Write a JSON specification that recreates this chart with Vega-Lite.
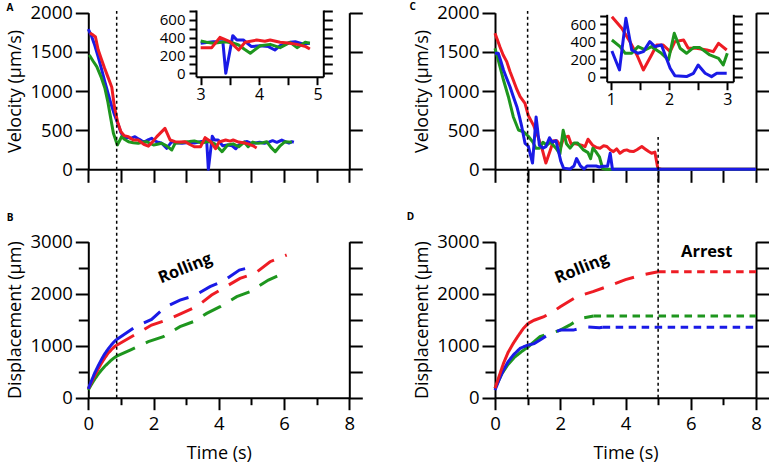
{
  "$schema": "https://vega.github.io/schema/vega-lite/v6.json",
  "width": 769,
  "height": 465,
  "autosize": {"type": "none"},
  "padding": 0,
  "background": "white",
  "config": {
    "view": {"stroke": null},
    "font": "Open Sans",
    "axis": {"grid": false, "domainColor": "black", "domainWidth": 2, "tickColor": "black", "tickWidth": 2, "labelColor": "black", "labelFont": "Open Sans", "labelFontSize": 18.5, "titleFont": "Open Sans", "titleFontSize": 18, "titleFontWeight": "normal", "titleColor": "black", "labelFlush": false, "labelOverlap": false, "labelPadding": 3, "tickSize": 13}
  },
  "datasets": {
    "vA": [
      {"cell":"cell 1","t":0,"v":1790},{"cell":"cell 1","t":0.1,"v":1700},{"cell":"cell 1","t":0.2,"v":1580},{"cell":"cell 1","t":0.3,"v":1440},{"cell":"cell 1","t":0.4,"v":1290},{"cell":"cell 1","t":0.5,"v":1130},{"cell":"cell 1","t":0.6,"v":980},{"cell":"cell 1","t":0.7,"v":830},{"cell":"cell 1","t":0.8,"v":700},{"cell":"cell 1","t":0.9,"v":590},{"cell":"cell 1","t":1.0,"v":470},{"cell":"cell 1","t":1.1,"v":400},{"cell":"cell 1","t":1.2,"v":410},{"cell":"cell 1","t":1.3,"v":395},{"cell":"cell 1","t":1.43,"v":417},{"cell":"cell 1","t":1.55,"v":385},{"cell":"cell 1","t":1.65,"v":360},{"cell":"cell 1","t":1.74,"v":353},{"cell":"cell 1","t":1.85,"v":380},{"cell":"cell 1","t":1.94,"v":396},{"cell":"cell 1","t":2.05,"v":360},{"cell":"cell 1","t":2.15,"v":345},{"cell":"cell 1","t":2.25,"v":332},{"cell":"cell 1","t":2.4,"v":268},{"cell":"cell 1","t":2.56,"v":353},{"cell":"cell 1","t":2.7,"v":340},{"cell":"cell 1","t":2.87,"v":332},{"cell":"cell 1","t":3.0,"v":340},{"cell":"cell 1","t":3.1,"v":345},{"cell":"cell 1","t":3.25,"v":337},{"cell":"cell 1","t":3.47,"v":355},{"cell":"cell 1","t":3.63,"v":355},{"cell":"cell 1","t":3.68,"v":0},{"cell":"cell 1","t":3.8,"v":423},{"cell":"cell 1","t":3.87,"v":374},{"cell":"cell 1","t":3.98,"v":374},{"cell":"cell 1","t":4.12,"v":300},{"cell":"cell 1","t":4.27,"v":310},{"cell":"cell 1","t":4.41,"v":300},{"cell":"cell 1","t":4.52,"v":262},{"cell":"cell 1","t":4.61,"v":310},{"cell":"cell 1","t":4.78,"v":348},{"cell":"cell 1","t":4.87,"v":355},{"cell":"cell 1","t":5.0,"v":330},{"cell":"cell 1","t":5.12,"v":337},{"cell":"cell 1","t":5.25,"v":345},{"cell":"cell 1","t":5.4,"v":332},{"cell":"cell 1","t":5.55,"v":350},{"cell":"cell 1","t":5.65,"v":366},{"cell":"cell 1","t":5.78,"v":345},{"cell":"cell 1","t":5.93,"v":374},{"cell":"cell 1","t":6.05,"v":350},{"cell":"cell 1","t":6.15,"v":335},{"cell":"cell 1","t":6.24,"v":353},{"cell":"cell 1","t":6.3,"v":345},
      {"cell":"cell 3","t":0.03,"v":1460},{"cell":"cell 3","t":0.15,"v":1380},{"cell":"cell 3","t":0.26,"v":1311},{"cell":"cell 3","t":0.4,"v":1170},{"cell":"cell 3","t":0.51,"v":1034},{"cell":"cell 3","t":0.6,"v":860},{"cell":"cell 3","t":0.66,"v":715},{"cell":"cell 3","t":0.77,"v":460},{"cell":"cell 3","t":0.89,"v":311},{"cell":"cell 3","t":0.97,"v":374},{"cell":"cell 3","t":1.02,"v":417},{"cell":"cell 3","t":1.12,"v":380},{"cell":"cell 3","t":1.23,"v":353},{"cell":"cell 3","t":1.38,"v":340},{"cell":"cell 3","t":1.53,"v":332},{"cell":"cell 3","t":1.65,"v":345},{"cell":"cell 3","t":1.79,"v":353},{"cell":"cell 3","t":2.0,"v":310},{"cell":"cell 3","t":2.12,"v":320},{"cell":"cell 3","t":2.25,"v":332},{"cell":"cell 3","t":2.4,"v":300},{"cell":"cell 3","t":2.56,"v":247},{"cell":"cell 3","t":2.66,"v":332},{"cell":"cell 3","t":2.8,"v":340},{"cell":"cell 3","t":2.97,"v":350},{"cell":"cell 3","t":3.1,"v":355},{"cell":"cell 3","t":3.25,"v":363},{"cell":"cell 3","t":3.47,"v":337},{"cell":"cell 3","t":3.67,"v":355},{"cell":"cell 3","t":3.8,"v":340},{"cell":"cell 3","t":3.9,"v":318},{"cell":"cell 3","t":4.0,"v":270},{"cell":"cell 3","t":4.1,"v":225},{"cell":"cell 3","t":4.27,"v":310},{"cell":"cell 3","t":4.44,"v":325},{"cell":"cell 3","t":4.61,"v":288},{"cell":"cell 3","t":4.78,"v":348},{"cell":"cell 3","t":4.9,"v":288},{"cell":"cell 3","t":5.04,"v":348},{"cell":"cell 3","t":5.12,"v":337},{"cell":"cell 3","t":5.21,"v":332},{"cell":"cell 3","t":5.35,"v":340},{"cell":"cell 3","t":5.47,"v":353},{"cell":"cell 3","t":5.6,"v":280},{"cell":"cell 3","t":5.73,"v":225},{"cell":"cell 3","t":5.88,"v":300},{"cell":"cell 3","t":6.03,"v":353},{"cell":"cell 3","t":6.24,"v":345},
      {"cell":"cell 2","t":0.05,"v":1740},{"cell":"cell 2","t":0.15,"v":1715},{"cell":"cell 2","t":0.22,"v":1690},{"cell":"cell 2","t":0.3,"v":1530},{"cell":"cell 2","t":0.4,"v":1410},{"cell":"cell 2","t":0.5,"v":1290},{"cell":"cell 2","t":0.6,"v":1180},{"cell":"cell 2","t":0.72,"v":1047},{"cell":"cell 2","t":0.8,"v":800},{"cell":"cell 2","t":0.9,"v":600},{"cell":"cell 2","t":1.0,"v":480},{"cell":"cell 2","t":1.1,"v":430},{"cell":"cell 2","t":1.23,"v":417},{"cell":"cell 2","t":1.38,"v":374},{"cell":"cell 2","t":1.53,"v":374},{"cell":"cell 2","t":1.7,"v":320},{"cell":"cell 2","t":1.84,"v":296},{"cell":"cell 2","t":1.97,"v":350},{"cell":"cell 2","t":2.1,"v":417},{"cell":"cell 2","t":2.35,"v":523},{"cell":"cell 2","t":2.51,"v":374},{"cell":"cell 2","t":2.66,"v":353},{"cell":"cell 2","t":2.8,"v":350},{"cell":"cell 2","t":2.97,"v":353},{"cell":"cell 2","t":3.1,"v":320},{"cell":"cell 2","t":3.25,"v":288},{"cell":"cell 2","t":3.44,"v":288},{"cell":"cell 2","t":3.58,"v":404},{"cell":"cell 2","t":3.75,"v":355},{"cell":"cell 2","t":3.9,"v":262},{"cell":"cell 2","t":4.01,"v":348},{"cell":"cell 2","t":4.21,"v":374},{"cell":"cell 2","t":4.35,"v":360},{"cell":"cell 2","t":4.44,"v":374},{"cell":"cell 2","t":4.61,"v":348},{"cell":"cell 2","t":4.75,"v":340},{"cell":"cell 2","t":4.9,"v":325},{"cell":"cell 2","t":5.05,"v":300},{"cell":"cell 2","t":5.16,"v":273}
    ],
    "iA": [
      {"cell":"cell 1","t":3.0,"v":337},{"cell":"cell 1","t":3.1,"v":345},{"cell":"cell 1","t":3.22,"v":355},{"cell":"cell 1","t":3.38,"v":355},{"cell":"cell 1","t":3.43,"v":0},{"cell":"cell 1","t":3.55,"v":423},{"cell":"cell 1","t":3.62,"v":374},{"cell":"cell 1","t":3.73,"v":374},{"cell":"cell 1","t":3.87,"v":300},{"cell":"cell 1","t":4.02,"v":310},{"cell":"cell 1","t":4.16,"v":300},{"cell":"cell 1","t":4.27,"v":262},{"cell":"cell 1","t":4.36,"v":310},{"cell":"cell 1","t":4.53,"v":348},{"cell":"cell 1","t":4.62,"v":355},{"cell":"cell 1","t":4.75,"v":330},{"cell":"cell 1","t":4.87,"v":337},
      {"cell":"cell 3","t":3.0,"v":363},{"cell":"cell 3","t":3.1,"v":350},{"cell":"cell 3","t":3.22,"v":337},{"cell":"cell 3","t":3.42,"v":355},{"cell":"cell 3","t":3.55,"v":340},{"cell":"cell 3","t":3.65,"v":318},{"cell":"cell 3","t":3.75,"v":270},{"cell":"cell 3","t":3.85,"v":225},{"cell":"cell 3","t":4.02,"v":310},{"cell":"cell 3","t":4.19,"v":325},{"cell":"cell 3","t":4.36,"v":288},{"cell":"cell 3","t":4.53,"v":348},{"cell":"cell 3","t":4.65,"v":288},{"cell":"cell 3","t":4.79,"v":348},{"cell":"cell 3","t":4.87,"v":337},
      {"cell":"cell 2","t":3.0,"v":288},{"cell":"cell 2","t":3.19,"v":288},{"cell":"cell 2","t":3.33,"v":404},{"cell":"cell 2","t":3.5,"v":355},{"cell":"cell 2","t":3.65,"v":262},{"cell":"cell 2","t":3.76,"v":348},{"cell":"cell 2","t":3.96,"v":374},{"cell":"cell 2","t":4.1,"v":360},{"cell":"cell 2","t":4.19,"v":374},{"cell":"cell 2","t":4.36,"v":348},{"cell":"cell 2","t":4.5,"v":340},{"cell":"cell 2","t":4.65,"v":325},{"cell":"cell 2","t":4.8,"v":300},{"cell":"cell 2","t":4.87,"v":273}
    ],
    "vC": [
      {"cell":"cell 2","t":0,"v":1737},{"cell":"cell 2","t":0.15,"v":1566},{"cell":"cell 2","t":0.25,"v":1460},{"cell":"cell 2","t":0.36,"v":1375},{"cell":"cell 2","t":0.46,"v":1250},{"cell":"cell 2","t":0.56,"v":1140},{"cell":"cell 2","t":0.67,"v":1020},{"cell":"cell 2","t":0.77,"v":927},{"cell":"cell 2","t":0.92,"v":843},{"cell":"cell 2","t":1.02,"v":688},{"cell":"cell 2","t":1.19,"v":555},{"cell":"cell 2","t":1.33,"v":403},{"cell":"cell 2","t":1.45,"v":251},{"cell":"cell 2","t":1.56,"v":80},{"cell":"cell 2","t":1.7,"v":251},{"cell":"cell 2","t":1.79,"v":365},{"cell":"cell 2","t":1.9,"v":365},{"cell":"cell 2","t":2.02,"v":289},{"cell":"cell 2","t":2.1,"v":403},{"cell":"cell 2","t":2.25,"v":422},{"cell":"cell 2","t":2.33,"v":327},{"cell":"cell 2","t":2.47,"v":327},{"cell":"cell 2","t":2.65,"v":308},{"cell":"cell 2","t":2.76,"v":289},{"cell":"cell 2","t":2.85,"v":384},{"cell":"cell 2","t":2.99,"v":308},{"cell":"cell 2","t":3.1,"v":280},{"cell":"cell 2","t":3.22,"v":269},{"cell":"cell 2","t":3.33,"v":300},{"cell":"cell 2","t":3.43,"v":291},{"cell":"cell 2","t":3.53,"v":250},{"cell":"cell 2","t":3.63,"v":226},{"cell":"cell 2","t":3.73,"v":260},{"cell":"cell 2","t":3.83,"v":205},{"cell":"cell 2","t":3.95,"v":240},{"cell":"cell 2","t":4.04,"v":248},{"cell":"cell 2","t":4.14,"v":230},{"cell":"cell 2","t":4.24,"v":226},{"cell":"cell 2","t":4.35,"v":250},{"cell":"cell 2","t":4.5,"v":291},{"cell":"cell 2","t":4.6,"v":260},{"cell":"cell 2","t":4.7,"v":230},{"cell":"cell 2","t":4.8,"v":205},{"cell":"cell 2","t":4.9,"v":220},{"cell":"cell 2","t":4.99,"v":13},{"cell":"cell 2","t":5.1,"v":0},{"cell":"cell 2","t":8.0,"v":0},
      {"cell":"cell 3","t":0,"v":1545},{"cell":"cell 3","t":0.1,"v":1396},{"cell":"cell 3","t":0.26,"v":1140},{"cell":"cell 3","t":0.41,"v":927},{"cell":"cell 3","t":0.56,"v":672},{"cell":"cell 3","t":0.72,"v":502},{"cell":"cell 3","t":0.87,"v":480},{"cell":"cell 3","t":1.02,"v":422},{"cell":"cell 3","t":1.16,"v":346},{"cell":"cell 3","t":1.25,"v":270},{"cell":"cell 3","t":1.36,"v":270},{"cell":"cell 3","t":1.47,"v":346},{"cell":"cell 3","t":1.59,"v":308},{"cell":"cell 3","t":1.7,"v":346},{"cell":"cell 3","t":1.87,"v":270},{"cell":"cell 3","t":1.99,"v":194},{"cell":"cell 3","t":2.09,"v":498},{"cell":"cell 3","t":2.19,"v":327},{"cell":"cell 3","t":2.3,"v":270},{"cell":"cell 3","t":2.42,"v":335},{"cell":"cell 3","t":2.53,"v":335},{"cell":"cell 3","t":2.7,"v":251},{"cell":"cell 3","t":2.85,"v":213},{"cell":"cell 3","t":2.93,"v":137},{"cell":"cell 3","t":3.0,"v":270},{"cell":"cell 3","t":3.1,"v":220},{"cell":"cell 3","t":3.2,"v":160},{"cell":"cell 3","t":3.3,"v":10},{"cell":"cell 3","t":3.4,"v":0},{"cell":"cell 3","t":8.0,"v":0},
      {"cell":"cell 1","t":0,"v":1481},{"cell":"cell 1","t":0.1,"v":1481},{"cell":"cell 1","t":0.18,"v":1380},{"cell":"cell 1","t":0.26,"v":1268},{"cell":"cell 1","t":0.36,"v":1160},{"cell":"cell 1","t":0.46,"v":1055},{"cell":"cell 1","t":0.56,"v":930},{"cell":"cell 1","t":0.67,"v":800},{"cell":"cell 1","t":0.75,"v":670},{"cell":"cell 1","t":0.82,"v":544},{"cell":"cell 1","t":0.92,"v":332},{"cell":"cell 1","t":1.02,"v":297},{"cell":"cell 1","t":1.15,"v":80},{"cell":"cell 1","t":1.26,"v":669},{"cell":"cell 1","t":1.36,"v":308},{"cell":"cell 1","t":1.47,"v":270},{"cell":"cell 1","t":1.56,"v":289},{"cell":"cell 1","t":1.67,"v":403},{"cell":"cell 1","t":1.76,"v":346},{"cell":"cell 1","t":1.87,"v":365},{"cell":"cell 1","t":2.02,"v":99},{"cell":"cell 1","t":2.1,"v":15},{"cell":"cell 1","t":2.3,"v":4},{"cell":"cell 1","t":2.42,"v":42},{"cell":"cell 1","t":2.5,"v":137},{"cell":"cell 1","t":2.62,"v":42},{"cell":"cell 1","t":2.73,"v":4},{"cell":"cell 1","t":2.82,"v":42},{"cell":"cell 1","t":2.99,"v":42},{"cell":"cell 1","t":3.1,"v":42},{"cell":"cell 1","t":3.2,"v":30},{"cell":"cell 1","t":3.3,"v":40},{"cell":"cell 1","t":3.45,"v":40},{"cell":"cell 1","t":3.53,"v":205},{"cell":"cell 1","t":3.6,"v":0},{"cell":"cell 1","t":8.0,"v":0}
    ],
    "iC": [
      {"cell":"cell 2","t":1.02,"v":688},{"cell":"cell 2","t":1.19,"v":555},{"cell":"cell 2","t":1.33,"v":403},{"cell":"cell 2","t":1.45,"v":251},{"cell":"cell 2","t":1.56,"v":80},{"cell":"cell 2","t":1.7,"v":251},{"cell":"cell 2","t":1.79,"v":365},{"cell":"cell 2","t":1.9,"v":365},{"cell":"cell 2","t":2.02,"v":289},{"cell":"cell 2","t":2.1,"v":403},{"cell":"cell 2","t":2.25,"v":422},{"cell":"cell 2","t":2.33,"v":327},{"cell":"cell 2","t":2.47,"v":327},{"cell":"cell 2","t":2.65,"v":308},{"cell":"cell 2","t":2.76,"v":289},{"cell":"cell 2","t":2.85,"v":384},{"cell":"cell 2","t":2.99,"v":308},
      {"cell":"cell 3","t":1.02,"v":422},{"cell":"cell 3","t":1.16,"v":346},{"cell":"cell 3","t":1.25,"v":270},{"cell":"cell 3","t":1.36,"v":270},{"cell":"cell 3","t":1.47,"v":346},{"cell":"cell 3","t":1.59,"v":308},{"cell":"cell 3","t":1.7,"v":346},{"cell":"cell 3","t":1.87,"v":270},{"cell":"cell 3","t":1.99,"v":194},{"cell":"cell 3","t":2.09,"v":498},{"cell":"cell 3","t":2.19,"v":327},{"cell":"cell 3","t":2.3,"v":270},{"cell":"cell 3","t":2.42,"v":335},{"cell":"cell 3","t":2.53,"v":335},{"cell":"cell 3","t":2.7,"v":251},{"cell":"cell 3","t":2.85,"v":213},{"cell":"cell 3","t":2.93,"v":137},{"cell":"cell 3","t":3.0,"v":270},
      {"cell":"cell 1","t":1.02,"v":297},{"cell":"cell 1","t":1.15,"v":80},{"cell":"cell 1","t":1.26,"v":669},{"cell":"cell 1","t":1.36,"v":308},{"cell":"cell 1","t":1.47,"v":270},{"cell":"cell 1","t":1.56,"v":289},{"cell":"cell 1","t":1.67,"v":403},{"cell":"cell 1","t":1.76,"v":346},{"cell":"cell 1","t":1.87,"v":365},{"cell":"cell 1","t":2.02,"v":99},{"cell":"cell 1","t":2.1,"v":15},{"cell":"cell 1","t":2.3,"v":4},{"cell":"cell 1","t":2.42,"v":42},{"cell":"cell 1","t":2.5,"v":137},{"cell":"cell 1","t":2.62,"v":42},{"cell":"cell 1","t":2.73,"v":4},{"cell":"cell 1","t":2.82,"v":42},{"cell":"cell 1","t":2.99,"v":42}
    ],
    "dB": [
      {"cell":"cell 3","seg":"solid","t":0,"v":150},{"cell":"cell 3","seg":"solid","t":0.1,"v":260},{"cell":"cell 3","seg":"solid","t":0.2,"v":360},{"cell":"cell 3","seg":"solid","t":0.3,"v":450},{"cell":"cell 3","seg":"solid","t":0.4,"v":530},{"cell":"cell 3","seg":"solid","t":0.5,"v":600},{"cell":"cell 3","seg":"solid","t":0.6,"v":660},{"cell":"cell 3","seg":"solid","t":0.7,"v":720},{"cell":"cell 3","seg":"solid","t":0.8,"v":770},{"cell":"cell 3","seg":"solid","t":0.87,"v":800},
      {"cell":"cell 3","seg":"long","t":0.87,"v":800},{"cell":"cell 3","seg":"long","t":1.3,"v":920},{"cell":"cell 3","seg":"long","t":1.84,"v":1077},{"cell":"cell 3","seg":"long","t":2.3,"v":1173},{"cell":"cell 3","seg":"long","t":2.81,"v":1365},{"cell":"cell 3","seg":"long","t":3.22,"v":1462},{"cell":"cell 3","seg":"long","t":3.63,"v":1622},{"cell":"cell 3","seg":"long","t":4.04,"v":1750},{"cell":"cell 3","seg":"long","t":4.55,"v":1942},{"cell":"cell 3","seg":"long","t":4.96,"v":2038},{"cell":"cell 3","seg":"long","t":5.52,"v":2263},{"cell":"cell 3","seg":"long","t":5.98,"v":2391},
      {"cell":"cell 2","seg":"solid","t":0,"v":170},{"cell":"cell 2","seg":"solid","t":0.1,"v":300},{"cell":"cell 2","seg":"solid","t":0.2,"v":430},{"cell":"cell 2","seg":"solid","t":0.3,"v":550},{"cell":"cell 2","seg":"solid","t":0.4,"v":660},{"cell":"cell 2","seg":"solid","t":0.5,"v":760},{"cell":"cell 2","seg":"solid","t":0.6,"v":850},{"cell":"cell 2","seg":"solid","t":0.7,"v":920},{"cell":"cell 2","seg":"solid","t":0.8,"v":980},{"cell":"cell 2","seg":"solid","t":0.87,"v":1010},
      {"cell":"cell 2","seg":"long","t":0.87,"v":1010},{"cell":"cell 2","seg":"long","t":1.4,"v":1200},{"cell":"cell 2","seg":"long","t":1.94,"v":1397},{"cell":"cell 2","seg":"long","t":2.4,"v":1494},{"cell":"cell 2","seg":"long","t":2.86,"v":1622},{"cell":"cell 2","seg":"long","t":3.32,"v":1750},{"cell":"cell 2","seg":"long","t":3.78,"v":1974},{"cell":"cell 2","seg":"long","t":4.04,"v":2070},{"cell":"cell 2","seg":"long","t":4.65,"v":2295},{"cell":"cell 2","seg":"long","t":5.11,"v":2391},{"cell":"cell 2","seg":"long","t":5.57,"v":2615},{"cell":"cell 2","seg":"long","t":6.08,"v":2744},
      {"cell":"cell 1","seg":"solid","t":0,"v":170},{"cell":"cell 1","seg":"solid","t":0.1,"v":330},{"cell":"cell 1","seg":"solid","t":0.2,"v":480},{"cell":"cell 1","seg":"solid","t":0.3,"v":610},{"cell":"cell 1","seg":"solid","t":0.4,"v":730},{"cell":"cell 1","seg":"solid","t":0.5,"v":840},{"cell":"cell 1","seg":"solid","t":0.6,"v":930},{"cell":"cell 1","seg":"solid","t":0.7,"v":1010},{"cell":"cell 1","seg":"solid","t":0.8,"v":1080},{"cell":"cell 1","seg":"solid","t":0.87,"v":1120},
      {"cell":"cell 1","seg":"long","t":0.87,"v":1120},{"cell":"cell 1","seg":"long","t":1.48,"v":1378},{"cell":"cell 1","seg":"long","t":1.94,"v":1506},{"cell":"cell 1","seg":"long","t":2.35,"v":1737},{"cell":"cell 1","seg":"long","t":2.81,"v":1878},{"cell":"cell 1","seg":"long","t":3.25,"v":1962},{"cell":"cell 1","seg":"long","t":3.73,"v":2135},{"cell":"cell 1","seg":"long","t":4.16,"v":2250},{"cell":"cell 1","seg":"long","t":4.63,"v":2455},{"cell":"cell 1","seg":"long","t":5.14,"v":2532}
    ],
    "dD": [
      {"cell":"cell 3","seg":"solid","t":0,"v":180},{"cell":"cell 3","seg":"solid","t":0.2,"v":450},{"cell":"cell 3","seg":"solid","t":0.4,"v":640},{"cell":"cell 3","seg":"solid","t":0.6,"v":780},{"cell":"cell 3","seg":"solid","t":0.8,"v":880},{"cell":"cell 3","seg":"solid","t":1.02,"v":980},
      {"cell":"cell 3","seg":"long","t":1.02,"v":980},{"cell":"cell 3","seg":"long","t":1.38,"v":1173},{"cell":"cell 3","seg":"long","t":2.0,"v":1300},{"cell":"cell 3","seg":"long","t":2.3,"v":1400},{"cell":"cell 3","seg":"long","t":2.61,"v":1525},{"cell":"cell 3","seg":"long","t":3.02,"v":1571},
      {"cell":"cell 3","seg":"short","t":3.02,"v":1571},{"cell":"cell 3","seg":"short","t":8.0,"v":1571},
      {"cell":"cell 1","seg":"solid","t":0,"v":147},{"cell":"cell 1","seg":"solid","t":0.13,"v":350},{"cell":"cell 1","seg":"solid","t":0.26,"v":532},{"cell":"cell 1","seg":"solid","t":0.4,"v":690},{"cell":"cell 1","seg":"solid","t":0.56,"v":820},{"cell":"cell 1","seg":"solid","t":0.77,"v":949},{"cell":"cell 1","seg":"solid","t":0.9,"v":985},{"cell":"cell 1","seg":"solid","t":1.02,"v":1013},
      {"cell":"cell 1","seg":"long","t":1.02,"v":1013},{"cell":"cell 1","seg":"long","t":1.2,"v":1040},{"cell":"cell 1","seg":"long","t":1.38,"v":1110},{"cell":"cell 1","seg":"long","t":1.6,"v":1200},{"cell":"cell 1","seg":"long","t":2.0,"v":1300},{"cell":"cell 1","seg":"long","t":2.4,"v":1300},{"cell":"cell 1","seg":"long","t":2.8,"v":1360},{"cell":"cell 1","seg":"long","t":3.2,"v":1345},{"cell":"cell 1","seg":"long","t":3.3,"v":1354},
      {"cell":"cell 1","seg":"short","t":3.3,"v":1354},{"cell":"cell 1","seg":"short","t":8.0,"v":1354},
      {"cell":"cell 2","seg":"solid","t":0,"v":180},{"cell":"cell 2","seg":"solid","t":0.13,"v":420},{"cell":"cell 2","seg":"solid","t":0.26,"v":660},{"cell":"cell 2","seg":"solid","t":0.4,"v":870},{"cell":"cell 2","seg":"solid","t":0.56,"v":1045},{"cell":"cell 2","seg":"solid","t":0.7,"v":1180},{"cell":"cell 2","seg":"solid","t":0.87,"v":1333},{"cell":"cell 2","seg":"solid","t":1.02,"v":1430},
      {"cell":"cell 2","seg":"long","t":1.02,"v":1430},{"cell":"cell 2","seg":"long","t":1.2,"v":1490},{"cell":"cell 2","seg":"long","t":1.5,"v":1560},{"cell":"cell 2","seg":"long","t":1.75,"v":1640},{"cell":"cell 2","seg":"long","t":2.0,"v":1750},{"cell":"cell 2","seg":"long","t":2.5,"v":1940},{"cell":"cell 2","seg":"long","t":3.0,"v":2040},{"cell":"cell 2","seg":"long","t":3.5,"v":2150},{"cell":"cell 2","seg":"long","t":4.0,"v":2270},{"cell":"cell 2","seg":"long","t":4.5,"v":2360},{"cell":"cell 2","seg":"long","t":5.0,"v":2423},
      {"cell":"cell 2","seg":"short","t":5.0,"v":2423},{"cell":"cell 2","seg":"short","t":8.0,"v":2423}
    ]
  },
  "resolve": {"scale": {"x": "independent", "y": "independent"}},
  "layer": [
    {
      "data": {"name": "vA"},
      "resolve": {"axis": {"x": "independent", "y": "independent"}},
      "layer": [
        {"mark": {"type": "line", "strokeWidth": 3, "strokeJoin": "round"},
         "encoding": {
           "x": {"field": "t", "type": "quantitative", "scale": {"domain": [0, 8], "range": [88.3, 349.3], "nice": false, "zero": false}, "axis": {"orient": "bottom", "offset": -295.7, "values": [0,1,2,3,4,5,6,7,8], "labels": false, "title": null}},
           "y": {"field": "v", "type": "quantitative", "scale": {"domain": [0, 2000], "range": [169.3, 12.7], "nice": false, "zero": false}, "axis": {"orient": "left", "offset": -88.3, "values": [0,500,1000,1500,2000], "format": "d", "title": "Velocity (µm/s)", "titlePadding": 5}},
           "color": {"field": "cell", "type": "nominal", "scale": {"domain": ["cell 1", "cell 2", "cell 3"], "range": ["#1a1ae6", "#ee1c24", "#1e961e"]}, "legend": null}
         }},
        {"mark": {"type": "point", "opacity": 0},
         "encoding": {
           "x": {"field": "t", "type": "quantitative", "scale": {"domain": [0, 8], "range": [88.3, 349.3], "nice": false, "zero": false}, "axis": null},
           "y": {"field": "v", "type": "quantitative", "scale": {"domain": [0, 2000], "range": [169.3, 12.7], "nice": false, "zero": false}, "axis": {"orient": "right", "offset": -419.7, "values": [0,500,1000,1500,2000], "labels": false, "title": null}}
         }},
        {"data": {"values": [{"label": "A"}]},
         "mark": {"type": "text", "fontWeight": "bold", "fontSize": 10, "font": "Open Sans", "align": "center", "baseline": "middle"},
         "encoding": {"x": {"datum": -2.4, "type": "quantitative", "axis": null}, "y": {"datum": 2054, "type": "quantitative", "axis": null}, "text": {"field": "label"}}}
      ]
    },
    {
      "data": {"name": "iA"},
      "resolve": {"axis": {"x": "independent", "y": "independent"}},
      "layer": [
        {"mark": {"type": "line", "strokeWidth": 3, "strokeJoin": "round"},
         "encoding": {
           "x": {"field": "t", "type": "quantitative", "scale": {"domain": [2.92, 5.1], "range": [196, 323.3], "nice": false, "zero": false}, "axis": {"orient": "bottom", "offset": -388.3, "values": [3, 4, 5], "format": "d", "labelFontSize": 16, "tickSize": 8, "labelPadding": 2, "title": null}},
           "y": {"field": "v", "type": "quantitative", "scale": {"domain": [-38, 711], "range": [76.7, 10], "nice": false, "zero": false}, "axis": {"orient": "left", "offset": -196, "values": [0,200,400,600], "labelFontSize": 15, "tickSize": 7, "labelPadding": 4, "title": null}},
           "color": {"field": "cell", "type": "nominal", "scale": {"domain": ["cell 1", "cell 2", "cell 3"], "range": ["#1a1ae6", "#ee1c24", "#1e961e"]}, "legend": null}
         }},
        {"mark": {"type": "point", "opacity": 0},
         "encoding": {
           "x": {"field": "t", "type": "quantitative", "scale": {"domain": [2.92, 5.1], "range": [196, 323.3], "nice": false, "zero": false}, "axis": {"orient": "bottom", "offset": -388.3, "values": [3.5, 4.5], "labels": false, "domain": false, "tickSize": 8, "title": null}},
           "y": {"field": "v", "type": "quantitative", "scale": {"domain": [-38, 711], "range": [76.7, 10], "nice": false, "zero": false}, "axis": {"orient": "right", "offset": -445.7, "values": [0,100,200,300,400,500,600,700], "labels": false, "tickSize": 9, "title": null}}
         }},
        {"mark": {"type": "point", "opacity": 0},
         "encoding": {
           "x": {"field": "t", "type": "quantitative", "scale": {"domain": [2.92, 5.1], "range": [196, 323.3], "nice": false, "zero": false}, "axis": null},
           "y": {"field": "v", "type": "quantitative", "scale": {"domain": [-38, 711], "range": [76.7, 10], "nice": false, "zero": false}, "axis": {"orient": "left", "offset": -196, "values": [100,300,500,700], "labels": false, "domain": false, "tickSize": 7, "title": null}}
         }}
      ]
    },
    {
      "data": {"name": "dB"},
      "resolve": {"axis": {"x": "independent", "y": "independent"}},
      "layer": [
        {"mark": {"type": "line", "strokeWidth": 3},
         "encoding": {
           "x": {"field": "t", "type": "quantitative", "scale": {"domain": [0, 8], "range": [88.3, 349.3], "nice": false, "zero": false}, "axis": {"orient": "bottom", "offset": -67.3, "values": [0,2,4,6,8], "tickSize": 12, "labelPadding": 5, "title": "Time (s)", "titlePadding": 11}},
           "y": {"field": "v", "type": "quantitative", "scale": {"domain": [0, 3000], "range": [397.7, 241.7], "nice": false, "zero": false}, "axis": {"orient": "left", "offset": -88.3, "values": [0,1000,2000,3000], "format": "d", "title": "Displacement (µm)", "titlePadding": 5}},
           "color": {"field": "cell", "type": "nominal", "scale": {"domain": ["cell 1", "cell 2", "cell 3"], "range": ["#1a1ae6", "#ee1c24", "#1e961e"]}, "legend": null},
           "strokeDash": {"field": "seg", "type": "nominal", "scale": {"domain": ["solid", "long", "short"], "range": [[1, 0], [20, 12], [7.5, 5.5]]}, "legend": null}
         }},
        {"mark": {"type": "point", "opacity": 0},
         "encoding": {
           "x": {"field": "t", "type": "quantitative", "scale": {"domain": [0, 8], "range": [88.3, 349.3], "nice": false, "zero": false}, "axis": {"orient": "bottom", "offset": -67.3, "values": [1,3,5,7], "tickSize": 7, "labels": false, "domain": false, "title": null}},
           "y": {"field": "v", "type": "quantitative", "scale": {"domain": [0, 3000], "range": [397.7, 241.7], "nice": false, "zero": false}, "axis": {"orient": "right", "offset": -419.7, "values": [0,500,1000,1500,2000,2500,3000], "labels": false, "title": null}}
         }},
        {"mark": {"type": "point", "opacity": 0},
         "encoding": {
           "x": {"field": "t", "type": "quantitative", "scale": {"domain": [0, 8], "range": [88.3, 349.3], "nice": false, "zero": false}, "axis": null},
           "y": {"field": "v", "type": "quantitative", "scale": {"domain": [0, 3000], "range": [397.7, 241.7], "nice": false, "zero": false}, "axis": {"orient": "left", "offset": -88.3, "values": [500,1500,2500], "labels": false, "domain": false, "tickSize": 10, "title": null}}
         }},
        {"data": {"values": [{"label": "B"}]},
         "mark": {"type": "text", "fontWeight": "bold", "fontSize": 10, "font": "Open Sans", "align": "center", "baseline": "middle"},
         "encoding": {"x": {"datum": -2.4, "type": "quantitative", "axis": null}, "y": {"datum": 3456, "type": "quantitative", "axis": null}, "text": {"field": "label"}}},
        {"data": {"values": [{"label": "Rolling"}]},
         "mark": {"type": "text", "fontWeight": "bold", "fontSize": 16.5, "font": "Open Sans", "align": "center", "baseline": "middle", "angle": 338},
         "encoding": {"x": {"datum": 2.97, "type": "quantitative", "axis": null}, "y": {"datum": 2488, "type": "quantitative", "axis": null}, "text": {"field": "label"}}},
        {"data": {"values": [{"t": 0.87}]},
         "mark": {"type": "rule", "strokeDash": [3, 3], "strokeWidth": 1.5, "color": "black"},
         "encoding": {"x": {"field": "t", "type": "quantitative", "axis": null}, "y": {"datum": 0, "type": "quantitative", "axis": null}, "y2": {"datum": 7437}}}
      ]
    },
    {
      "data": {"name": "vC"},
      "resolve": {"axis": {"x": "independent", "y": "independent"}},
      "layer": [
        {"mark": {"type": "line", "strokeWidth": 3, "strokeJoin": "round"},
         "encoding": {
           "x": {"field": "t", "type": "quantitative", "scale": {"domain": [0, 8], "range": [495, 756], "nice": false, "zero": false}, "axis": {"orient": "bottom", "offset": -295.7, "values": [0,1,2,3,4,5,6,7,8], "labels": false, "title": null}},
           "y": {"field": "v", "type": "quantitative", "scale": {"domain": [0, 2000], "range": [169.3, 12.7], "nice": false, "zero": false}, "axis": {"orient": "left", "offset": -495, "values": [0,500,1000,1500,2000], "format": "d", "title": "Velocity (µm/s)", "titlePadding": 5}},
           "color": {"field": "cell", "type": "nominal", "scale": {"domain": ["cell 1", "cell 2", "cell 3"], "range": ["#1a1ae6", "#ee1c24", "#1e961e"]}, "legend": null}
         }},
        {"mark": {"type": "point", "opacity": 0},
         "encoding": {
           "x": {"field": "t", "type": "quantitative", "scale": {"domain": [0, 8], "range": [495, 756], "nice": false, "zero": false}, "axis": null},
           "y": {"field": "v", "type": "quantitative", "scale": {"domain": [0, 2000], "range": [169.3, 12.7], "nice": false, "zero": false}, "axis": {"orient": "right", "offset": -13, "values": [0,500,1000,1500,2000], "labels": false, "title": null}}
         }},
        {"data": {"values": [{"label": "C"}]},
         "mark": {"type": "text", "fontWeight": "bold", "fontSize": 10, "font": "Open Sans", "align": "center", "baseline": "middle"},
         "encoding": {"x": {"datum": -2.52, "type": "quantitative", "axis": null}, "y": {"datum": 2073, "type": "quantitative", "axis": null}, "text": {"field": "label"}}}
      ]
    },
    {
      "data": {"name": "iC"},
      "resolve": {"axis": {"x": "independent", "y": "independent"}},
      "layer": [
        {"mark": {"type": "line", "strokeWidth": 3, "strokeJoin": "round"},
         "encoding": {
           "x": {"field": "t", "type": "quantitative", "scale": {"domain": [0.931, 3.103], "range": [606.7, 733.3], "nice": false, "zero": false}, "axis": {"orient": "bottom", "offset": -383.3, "values": [1, 2, 3], "format": "d", "labelFontSize": 16, "tickSize": 8, "labelPadding": 2, "title": null}},
           "y": {"field": "v", "type": "quantitative", "scale": {"domain": [-54, 715], "range": [81.7, 14.3], "nice": false, "zero": false}, "axis": {"orient": "left", "offset": -606.7, "values": [0,200,400,600], "labelFontSize": 15, "tickSize": 7, "labelPadding": 4, "title": null}},
           "color": {"field": "cell", "type": "nominal", "scale": {"domain": ["cell 1", "cell 2", "cell 3"], "range": ["#1a1ae6", "#ee1c24", "#1e961e"]}, "legend": null}
         }},
        {"mark": {"type": "point", "opacity": 0},
         "encoding": {
           "x": {"field": "t", "type": "quantitative", "scale": {"domain": [0.931, 3.103], "range": [606.7, 733.3], "nice": false, "zero": false}, "axis": {"orient": "bottom", "offset": -383.3, "values": [1.5, 2.5], "labels": false, "domain": false, "tickSize": 8, "title": null}},
           "y": {"field": "v", "type": "quantitative", "scale": {"domain": [-54, 715], "range": [81.7, 14.3], "nice": false, "zero": false}, "axis": {"orient": "right", "offset": -35.7, "values": [0,100,200,300,400,500,600,700], "labels": false, "tickSize": 9, "title": null}}
         }},
        {"mark": {"type": "point", "opacity": 0},
         "encoding": {
           "x": {"field": "t", "type": "quantitative", "scale": {"domain": [0.931, 3.103], "range": [606.7, 733.3], "nice": false, "zero": false}, "axis": null},
           "y": {"field": "v", "type": "quantitative", "scale": {"domain": [-54, 715], "range": [81.7, 14.3], "nice": false, "zero": false}, "axis": {"orient": "left", "offset": -606.7, "values": [100,300,500,700], "labels": false, "domain": false, "tickSize": 7, "title": null}}
         }}
      ]
    },
    {
      "data": {"name": "dD"},
      "resolve": {"axis": {"x": "independent", "y": "independent"}},
      "layer": [
        {"mark": {"type": "line", "strokeWidth": 3},
         "encoding": {
           "x": {"field": "t", "type": "quantitative", "scale": {"domain": [0, 8], "range": [495, 756], "nice": false, "zero": false}, "axis": {"orient": "bottom", "offset": -67.3, "values": [0,2,4,6,8], "tickSize": 12, "labelPadding": 5, "title": "Time (s)", "titlePadding": 11}},
           "y": {"field": "v", "type": "quantitative", "scale": {"domain": [0, 3000], "range": [397.7, 241.7], "nice": false, "zero": false}, "axis": {"orient": "left", "offset": -495, "values": [0,1000,2000,3000], "format": "d", "title": "Displacement (µm)", "titlePadding": 5}},
           "color": {"field": "cell", "type": "nominal", "scale": {"domain": ["cell 1", "cell 2", "cell 3"], "range": ["#1a1ae6", "#ee1c24", "#1e961e"]}, "legend": null},
           "strokeDash": {"field": "seg", "type": "nominal", "scale": {"domain": ["solid", "long", "short"], "range": [[1, 0], [20, 12], [7.5, 5.5]]}, "legend": null}
         }},
        {"mark": {"type": "point", "opacity": 0},
         "encoding": {
           "x": {"field": "t", "type": "quantitative", "scale": {"domain": [0, 8], "range": [495, 756], "nice": false, "zero": false}, "axis": {"orient": "bottom", "offset": -67.3, "values": [1,3,5,7], "tickSize": 7, "labels": false, "domain": false, "title": null}},
           "y": {"field": "v", "type": "quantitative", "scale": {"domain": [0, 3000], "range": [397.7, 241.7], "nice": false, "zero": false}, "axis": {"orient": "right", "offset": -13, "values": [0,500,1000,1500,2000,2500,3000], "labels": false, "title": null}}
         }},
        {"mark": {"type": "point", "opacity": 0},
         "encoding": {
           "x": {"field": "t", "type": "quantitative", "scale": {"domain": [0, 8], "range": [495, 756], "nice": false, "zero": false}, "axis": null},
           "y": {"field": "v", "type": "quantitative", "scale": {"domain": [0, 3000], "range": [397.7, 241.7], "nice": false, "zero": false}, "axis": {"orient": "left", "offset": -495, "values": [500,1500,2500], "labels": false, "domain": false, "tickSize": 10, "title": null}}
         }},
        {"data": {"values": [{"label": "D"}]},
         "mark": {"type": "text", "fontWeight": "bold", "fontSize": 10, "font": "Open Sans", "align": "center", "baseline": "middle"},
         "encoding": {"x": {"datum": -2.59, "type": "quantitative", "axis": null}, "y": {"datum": 3469, "type": "quantitative", "axis": null}, "text": {"field": "label"}}},
        {"data": {"values": [{"label": "Rolling"}]},
         "mark": {"type": "text", "fontWeight": "bold", "fontSize": 16.5, "font": "Open Sans", "align": "center", "baseline": "middle", "angle": 338},
         "encoding": {"x": {"datum": 2.66, "type": "quantitative", "axis": null}, "y": {"datum": 2488, "type": "quantitative", "axis": null}, "text": {"field": "label"}}},
        {"data": {"values": [{"label": "Arrest"}]},
         "mark": {"type": "text", "fontWeight": "bold", "fontSize": 16.5, "font": "Open Sans", "align": "center", "baseline": "middle"},
         "encoding": {"x": {"datum": 6.49, "type": "quantitative", "axis": null}, "y": {"datum": 2808, "type": "quantitative", "axis": null}, "text": {"field": "label"}}},
        {"data": {"values": [{"t": 1.0}]},
         "mark": {"type": "rule", "strokeDash": [3, 3], "strokeWidth": 1.5, "color": "black"},
         "encoding": {"x": {"field": "t", "type": "quantitative", "axis": null}, "y": {"datum": 0, "type": "quantitative", "axis": null}, "y2": {"datum": 7437}}},
        {"data": {"values": [{"t": 5.0}]},
         "mark": {"type": "rule", "strokeDash": [3, 3], "strokeWidth": 1.5, "color": "black"},
         "encoding": {"x": {"field": "t", "type": "quantitative", "axis": null}, "y": {"datum": 0, "type": "quantitative", "axis": null}, "y2": {"datum": 5013}}}
      ]
    }
  ]
}
